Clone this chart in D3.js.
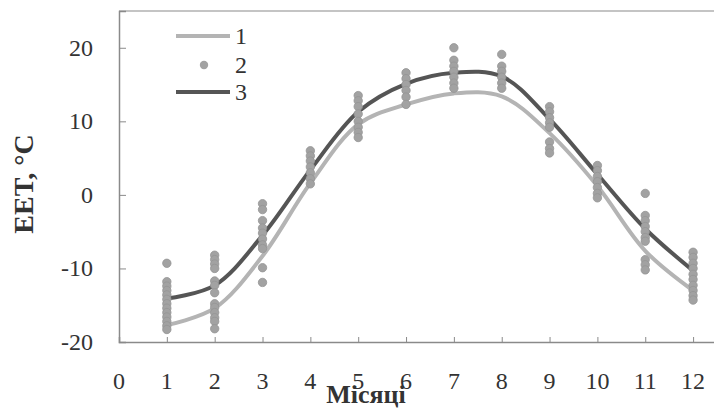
<!DOCTYPE html>
<html>
<head>
<meta charset="utf-8">
<script src="https://cdn.jsdelivr.net/npm/d3@7"></script>
<style>
  body { margin: 0; background: #fff; }
  svg text { font-family: "Liberation Serif", "Times New Roman", serif; fill: #333; }
</style>
</head>
<body>
<div id="chart"></div>
<script>
// Données
const months = [1, 2, 3, 4, 5, 6, 7, 8, 9, 10, 11, 12];
const line1 = [-17.7, -15.4, -8.3, 1.6, 9.6, 12.3, 13.8, 13.4, 8.4, 1.2, -7.6, -13.0];
const line3 = [-14.1, -12.3, -5.5, 3.4, 11.3, 15.1, 16.6, 16.1, 10.3, 2.8, -4.6, -10.3];
const points = [
    [-9.3, -11.8, -12.4, -13, -13.6, -14.2, -14.8, -15.4, -16, -16.6, -17.2, -17.8, -18.3],
    [-8.2, -8.8, -9.4, -10, -11.7, -12.3, -13.3, -14.8, -15.3, -16, -16.7, -17.2, -18.2],
    [-1.2, -2, -3.5, -4.5, -5.2, -6, -6.8, -7.3, -9.9, -11.9],
    [6, 5.3, 4.6, 3.8, 3, 2.2, 1.5],
    [13.5, 12.8, 12, 11, 10, 9.2, 8.5, 7.8],
    [16.6, 15.8, 15, 14.2, 13.3, 12.3],
    [20, 18.3, 17.5, 16.8, 16, 15.2, 14.5],
    [19.1, 17.5, 16.8, 16, 15.2, 14.5],
    [12, 11.3, 10.5, 9.8, 9.2, 7.2, 6.3, 5.7],
    [4, 3.3, 2.5, 1.8, 1, 0.2, -0.4],
    [0.2, -2.8, -3.5, -4.3, -5, -5.8, -6.3, -8.8, -9.5, -10.2],
    [-7.8, -8.5, -9.3, -10, -10.8, -11.5, -12.3, -13, -13.7, -14.3]
];
const xTicks = [0, 1, 2, 3, 4, 5, 6, 7, 8, 9, 10, 11, 12];
const yTicks = [-20, -10, 0, 10, 20];
const legendLabels = ["1", "2", "3"];

const width = 714, height = 408;
const plot = { left: 119, right: 717, top: 11, bottom: 342 };

const svg = d3.select("#chart").append("svg")
    .attr("width", width)
    .attr("height", height);

const x = d3.scaleLinear().domain([0, 12.5]).range([plot.left, plot.right]);
const y = d3.scaleLinear().domain([-20, 25]).range([plot.bottom, plot.top]);

const axisColor = "#8a8a8a";

// Cadre
svg.append("line").attr("x1", plot.left).attr("x2", width).attr("y1", plot.top).attr("y2", plot.top)
    .attr("stroke", axisColor).attr("stroke-width", 1.2);

// Axes
const xAxis = d3.axisBottom(x).tickValues(months).tickSize(-5).tickFormat("");
svg.append("g").attr("transform", `translate(0,${plot.bottom})`).call(xAxis)
    .call(g => g.select(".domain").attr("stroke", axisColor).attr("stroke-width", 1.5))
    .call(g => g.selectAll(".tick line").attr("stroke", axisColor));

const yAxis = d3.axisLeft(y).tickValues([-10, 0, 10, 20]).tickSize(-7).tickFormat("");
svg.append("g").attr("transform", `translate(${plot.left},0)`).call(yAxis)
    .call(g => g.select(".domain").attr("stroke", axisColor).attr("stroke-width", 1.5))
    .call(g => g.selectAll(".tick line").attr("stroke", axisColor));

// Labels des ticks
svg.selectAll(".xlab").data(xTicks).enter().append("text")
    .attr("x", d => x(d))
    .attr("y", 389)
    .attr("text-anchor", "middle")
    .style("font-size", "24px")
    .text(d => d);

svg.selectAll(".ylab").data(yTicks).enter().append("text")
    .attr("x", 93)
    .attr("y", d => y(d) + 8)
    .attr("text-anchor", "end")
    .style("font-size", "24px")
    .text(d => d);

// Titres des axes
svg.append("text")
    .attr("transform", "translate(33,184) rotate(-90)")
    .attr("text-anchor", "middle")
    .style("font-size", "28px")
    .style("font-weight", "bold")
    .text("EET, °C");

svg.append("text")
    .attr("x", 366)
    .attr("y", 403)
    .attr("text-anchor", "middle")
    .style("font-size", "26px")
    .style("font-weight", "bold")
    .text("Місяці");

// Courbes
const line = d3.line()
    .x((d, i) => x(months[i]))
    .y(d => y(d))
    .curve(d3.curveCatmullRom.alpha(0.5));

svg.append("path").datum(line1)
    .attr("d", line)
    .attr("fill", "none")
    .attr("stroke", "#b4b4b4")
    .attr("stroke-width", 4);

svg.append("path").datum(line3)
    .attr("d", line)
    .attr("fill", "none")
    .attr("stroke", "#555")
    .attr("stroke-width", 4);

// Points
const flat = points.flatMap((vals, i) => vals.map(v => ({ m: months[i], v: v })));
svg.selectAll(".point").data(flat).enter().append("circle")
    .attr("class", "point")
    .attr("cx", d => x(d.m))
    .attr("cy", d => y(d.v))
    .attr("r", 4.2)
    .attr("fill", "#a2a2a2")
    .attr("stroke", "#949494")
    .attr("stroke-width", 0.8);

// Légende
const legend = svg.append("g");
legend.append("line").attr("x1", 176).attr("x2", 230).attr("y1", 36).attr("y2", 36)
    .attr("stroke", "#b4b4b4").attr("stroke-width", 4);
legend.append("circle").attr("cx", 204).attr("cy", 65).attr("r", 4.2)
    .attr("fill", "#a2a2a2");
legend.append("line").attr("x1", 176).attr("x2", 230).attr("y1", 92).attr("y2", 92)
    .attr("stroke", "#555").attr("stroke-width", 4);
legendLabels.forEach((t, i) => {
    legend.append("text")
        .attr("x", 235)
        .attr("y", [36, 65, 92][i] + 8)
        .style("font-size", "24px")
        .text(t);
});
</script>
</body>
</html>
